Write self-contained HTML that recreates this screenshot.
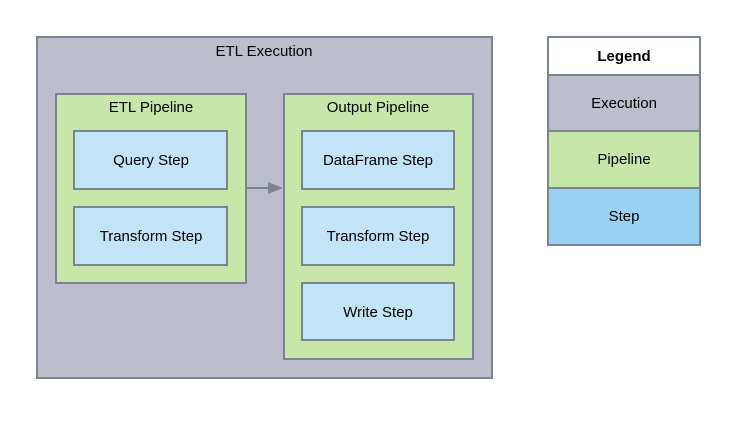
<!DOCTYPE html>
<html><head><style>body{margin:0;background:#fff}</style></head><body>
<svg width="738" height="417" xmlns="http://www.w3.org/2000/svg" font-family="Liberation Sans, sans-serif" font-size="15" fill="#000">
<g stroke="#7a8591" stroke-width="2">
<rect x="37" y="37" width="455" height="341" fill="#bdbecb"/>
<rect x="56" y="94" width="190" height="189" fill="#c7e6aa"/>
<rect x="284" y="94" width="189" height="265" fill="#c7e6aa"/>
<rect x="74" y="131" width="153" height="58" fill="#c3e3f6"/>
<rect x="74" y="207" width="153" height="58" fill="#c3e3f6"/>
<rect x="302" y="131" width="152" height="58" fill="#c3e3f6"/>
<rect x="302" y="207" width="152" height="58" fill="#c3e3f6"/>
<rect x="302" y="283" width="152" height="57" fill="#c3e3f6"/>
<line x1="246" y1="188" x2="270" y2="188"/>
<rect x="548" y="37" width="152" height="38" fill="#fff"/>
<rect x="548" y="75" width="152" height="56" fill="#bdbecb"/>
<rect x="548" y="131" width="152" height="57" fill="#c7e6aa"/>
<rect x="548" y="188" width="152" height="57" fill="#99d1f2"/>
</g>
<polygon points="268,182 283,188 268,194" fill="#7a8591"/>
<g text-anchor="middle">
<text x="264" y="56">ETL Execution</text>
<text x="151" y="112">ETL Pipeline</text>
<text x="378" y="112">Output Pipeline</text>
<text x="151" y="165">Query Step</text>
<text x="151" y="241">Transform Step</text>
<text x="378" y="165">DataFrame Step</text>
<text x="378" y="241">Transform Step</text>
<text x="378" y="317">Write Step</text>
<text x="624" y="61" font-weight="bold">Legend</text>
<text x="624" y="108">Execution</text>
<text x="624" y="164">Pipeline</text>
<text x="624" y="221">Step</text>
</g>
</svg>
</body></html>
